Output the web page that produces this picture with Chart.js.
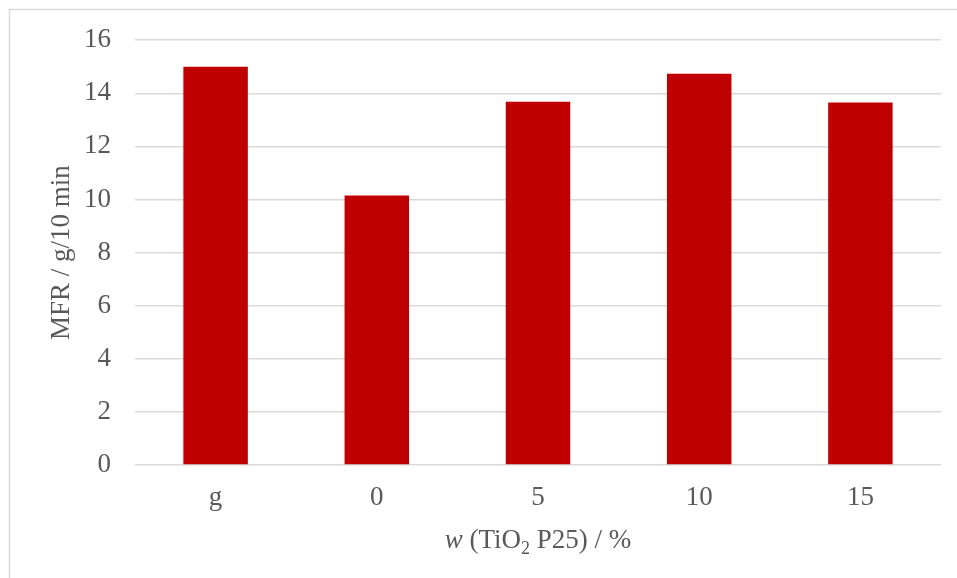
<!DOCTYPE html>
<html>
<head>
<meta charset="utf-8">
<script src="https://cdn.jsdelivr.net/npm/chart.js@4/dist/chart.umd.min.js"></script>
<style>
  html, body { margin: 0; padding: 0; background: #ffffff; }
  #wrap { width: 957px; height: 578px; position: relative; }
</style>
</head>
<body>
<div id="wrap"><canvas id="c" width="957" height="578"></canvas></div>
<script>
// Melt flow rate per sample
const categories = ['g', '0', '5', '10', '15'];
const mfrValues = [15.0, 10.15, 13.68, 14.74, 13.65];
const yTicks = [0, 2, 4, 6, 8, 10, 12, 14, 16];

const TEXT = '#595959';
const GRID = '#d9d9d9';
const SERIF = '"Liberation Serif", "Times New Roman", serif';
const FS = 27;

// Outer frame and axis titles (x title mixes italic and subscript)
const decorations = {
  id: 'decorations',
  afterDraw(chart) {
    const ctx = chart.ctx;
    const area = chart.chartArea;
    ctx.save();
    ctx.strokeStyle = GRID;
    ctx.lineWidth = 1.5;
    ctx.strokeRect(9.5, 9.5, 960, 600);

    ctx.fillStyle = TEXT;
    ctx.textBaseline = 'alphabetic';

    // y title
    ctx.save();
    ctx.translate(69, (area.top + area.bottom) / 2);
    ctx.rotate(-Math.PI / 2);
    ctx.font = FS + 'px ' + SERIF;
    ctx.textAlign = 'center';
    ctx.fillText('MFR / g/10 min', 0, 0);
    ctx.restore();

    // x title: "w (TiO2 P25) / %"
    const parts = [
      { t: 'w', font: 'italic ' + FS + 'px ' + SERIF, dy: 0 },
      { t: ' (TiO', font: FS + 'px ' + SERIF, dy: 0 },
      { t: '2', font: '18px ' + SERIF, dy: 6 },
      { t: ' P25) / %', font: FS + 'px ' + SERIF, dy: 0 }
    ];
    let total = 0;
    parts.forEach(p => { ctx.font = p.font; p.w = ctx.measureText(p.t).width; total += p.w; });
    let x = (area.left + area.right) / 2 - total / 2;
    const baseY = 548;
    ctx.textAlign = 'left';
    parts.forEach(p => {
      ctx.font = p.font;
      ctx.fillText(p.t, x, baseY + p.dy);
      x += p.w;
    });
    ctx.restore();
  }
};

new Chart(document.getElementById('c'), {
  type: 'bar',
  data: {
    labels: categories,
    datasets: [{
      data: mfrValues,
      backgroundColor: '#c00000',
      borderWidth: 0,
      categoryPercentage: 1.0,
      barPercentage: 0.4
    }]
  },
  options: {
    responsive: false,
    animation: false,
    devicePixelRatio: 1,
    layout: { padding: { top: 39, right: 16, left: 0, bottom: 0 } },
    plugins: { legend: { display: false }, tooltip: { enabled: false } },
    scales: {
      x: {
        grid: { display: false, drawTicks: false },
        border: { display: false },
        ticks: {
          color: TEXT,
          font: { family: SERIF, size: FS },
          padding: 17
        },
        afterFit(scale) { scale.height = 113; }
      },
      y: {
        min: 0,
        max: 16,
        afterBuildTicks(scale) { scale.ticks = yTicks.map(v => ({ value: v })); },
        grid: { color: GRID, lineWidth: 1.5, drawTicks: false },
        border: { display: false },
        ticks: {
          color: TEXT,
          font: { family: SERIF, size: FS },
          padding: 24
        },
        afterFit(scale) { scale.width = 135; }
      }
    }
  },
  plugins: [decorations]
});
</script>
</body>
</html>
